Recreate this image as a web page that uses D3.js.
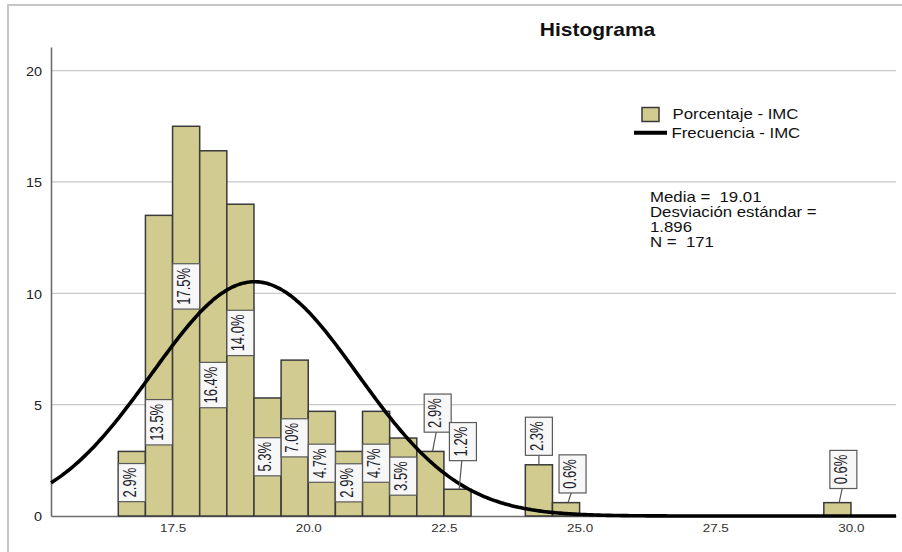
<!DOCTYPE html>
<html>
<head>
<meta charset="utf-8">
<script src="https://cdn.jsdelivr.net/npm/d3@7"></script>
<style>
  html, body { margin: 0; padding: 0; background: #fff; }
  svg { display: block; font-family: Arial, "Liberation Sans", sans-serif; }
  text { white-space: pre; }
</style>
</head>
<body>
<svg id="chart" width="902" height="552"></svg>
<script>
// Histogram of IMC: percentage per 0.5-wide bin, plus the fitted normal curve.
const binStart = [16.5, 17.0, 17.5, 18.0, 18.5, 19.0, 19.5, 20.0, 20.5, 21.0, 21.5, 22.0, 22.5, 24.0, 24.5, 29.5];
const percent  = [2.9, 13.5, 17.5, 16.4, 14.0, 5.3, 7.0, 4.7, 2.9, 4.7, 3.5, 2.9, 1.2, 2.3, 0.6, 0.6];
const binWidth = 0.5;

// Summary statistics shown in the annotation and used by the normal curve
const media = 19.01;
const desviacion = 1.896;
const nCasos = 171;

const xTicks = [17.5, 20.0, 22.5, 25.0, 27.5, 30.0];
const yTicks = [0, 5, 10, 15, 20];

// Where each value label sits (y level in percent units, x shift in IMC units)
const labelLevel = [1.50, 4.21, 10.31, 5.88, 8.22, 2.66, 3.51, 2.37, 1.49, 2.37, 1.79, 4.62, 3.34, 3.58, 1.89, 2.09];
const labelShift = [0, 0, 0, 0, 0, 0, 0, 0, 0, 0, 0, 0.135, 0.10, 0, 0.12, 0.11];

const svg = d3.select("#chart");
const SX = 1.2;    // horizontal text stretch
const LSX = 1.35;  // stretch of the rotated value labels

const x = d3.scaleLinear().domain([15.26, 30.83]).range([51, 896]);
const y = d3.scaleLinear().domain([0, 21.06]).range([516, 47]);

// outer frame (top and left edges)
svg.append("path")
  .attr("d", "M8,552 L8,5 L902,5")
  .attr("fill", "none").attr("stroke", "#c6c6c6").attr("stroke-width", 2);

// title
svg.append("text")
  .attr("transform", "translate(597.5,36) scale(" + SX + ",1)")
  .attr("text-anchor", "middle")
  .attr("font-size", 17.5).attr("font-weight", "bold").attr("fill", "#111")
  .text("Histograma");

// horizontal gridlines
svg.append("g").selectAll("line")
  .data(yTicks.filter(d => d > 0))
  .join("line")
  .attr("x1", x.range()[0]).attr("x2", x.range()[1])
  .attr("y1", d => y(d)).attr("y2", d => y(d))
  .attr("stroke", "#c8c8c8").attr("stroke-width", 1.2);

// y axis
const gy = svg.append("g")
  .attr("transform", "translate(" + x.range()[0] + ",0)")
  .call(d3.axisLeft(y).tickValues(yTicks).tickFormat(d3.format("d")).tickSize(0).tickSizeOuter(0));
gy.select(".domain").attr("stroke", "#6e6e6e").attr("stroke-width", 1.6);
gy.selectAll(".tick text")
  .attr("x", -9 / SX).attr("dy", "0.4em")
  .attr("transform", "scale(" + SX + ",1)")
  .attr("font-size", 12).attr("fill", "#222").attr("font-family", null);

// x axis
const gx = svg.append("g")
  .attr("transform", "translate(0," + y(0) + ")")
  .call(d3.axisBottom(x).tickValues(xTicks).tickFormat(d3.format(".1f")).tickSize(0).tickSizeOuter(0));
gx.select(".domain").attr("stroke", "#6e6e6e").attr("stroke-width", 1.6);
gx.selectAll(".tick text")
  .attr("y", 16).attr("dy", 0)
  .attr("transform", "scale(1.17,1)")
  .attr("font-size", 11.5).attr("fill", "#333").attr("font-family", null);

// bars
const bins = binStart.map((s, i) => ({ s, v: percent[i], ly: labelLevel[i], dx: labelShift[i] }));
const barColor = "#d1cb8f";
svg.append("g").selectAll("rect")
  .data(bins)
  .join("rect")
  .attr("x", d => x(d.s))
  .attr("width", d => x(d.s + binWidth) - x(d.s))
  .attr("y", d => y(d.v))
  .attr("height", d => y(0) - y(d.v))
  .attr("fill", barColor).attr("stroke", "#3a3a3a").attr("stroke-width", 1.5);

// fitted normal curve, scaled to percent per bin
const pdf = v => Math.exp(-0.5 * Math.pow((v - media) / desviacion, 2)) / (desviacion * Math.sqrt(2 * Math.PI));
const xs = d3.range(0, 401).map(i => x.domain()[0] + (x.domain()[1] - x.domain()[0]) * i / 400);
svg.append("path")
  .datum(xs)
  .attr("d", d3.line().x(v => x(v)).y(v => y(100 * binWidth * pdf(v))).curve(d3.curveBasis))
  .attr("fill", "none").attr("stroke", "#000").attr("stroke-width", 3.6);

// value labels in boxes
const lab = svg.append("g");
bins.forEach(d => {
  const barC = x(d.s + binWidth / 2);
  const cx = x(d.s + binWidth / 2 + d.dx);
  const cy = y(d.ly);
  const g = lab.append("g");
  const box = g.append("rect");
  const t = g.append("text")
    .attr("transform", "translate(" + (cx - 2.5) + "," + cy + ") scale(" + LSX + ",1) rotate(-90)")
    .attr("text-anchor", "middle").attr("dominant-baseline", "central")
    .attr("font-size", 13).attr("fill", "#1d1d2b")
    .text(d.v.toFixed(1) + "%");
  const L = t.node().getComputedTextLength();
  const h = L + 8.5, w = 27;
  box.attr("x", cx - w / 2).attr("y", cy - h / 2).attr("width", w).attr("height", h)
    .attr("fill", "#f7f7f7").attr("stroke", "#5a5a5a").attr("stroke-width", 1.2);
  const bottom = cy + h / 2;
  if (bottom < y(d.v)) {
    const off = cx - barC;
    g.insert("line", "rect")
      .attr("x1", barC + 0.3 * off).attr("y1", y(d.v))
      .attr("x2", barC + 0.8 * off).attr("y2", bottom)
      .attr("stroke", "#555").attr("stroke-width", 1.2);
  }
});

// legend
const leg = svg.append("g");
leg.append("rect").attr("x", 642).attr("y", 107.5).attr("width", 17).attr("height", 14)
  .attr("fill", barColor).attr("stroke", "#3a3a3a").attr("stroke-width", 1.5);
leg.append("text").attr("transform", "translate(672.5,118.5) scale(" + SX + ",1)")
  .attr("font-size", 14).attr("fill", "#111").text("Porcentaje - IMC");
leg.append("line").attr("x1", 634).attr("x2", 667).attr("y1", 132.7).attr("y2", 132.7)
  .attr("stroke", "#000").attr("stroke-width", 4);
leg.append("text").attr("transform", "translate(671.5,138) scale(" + SX + ",1)")
  .attr("font-size", 14).attr("fill", "#111").text("Frecuencia - IMC");

// summary statistics
const stats = ["Media =  " + media.toFixed(2), "Desviación estándar =", desviacion.toFixed(3), "N =  " + nCasos];
svg.append("g").selectAll("text")
  .data(stats)
  .join("text")
  .attr("transform", (d, i) => "translate(650," + (202 + i * 15.1) + ") scale(" + SX + ",1)")
  .attr("font-size", 14).attr("fill", "#111")
  .text(d => d);
</script>
</body>
</html>
